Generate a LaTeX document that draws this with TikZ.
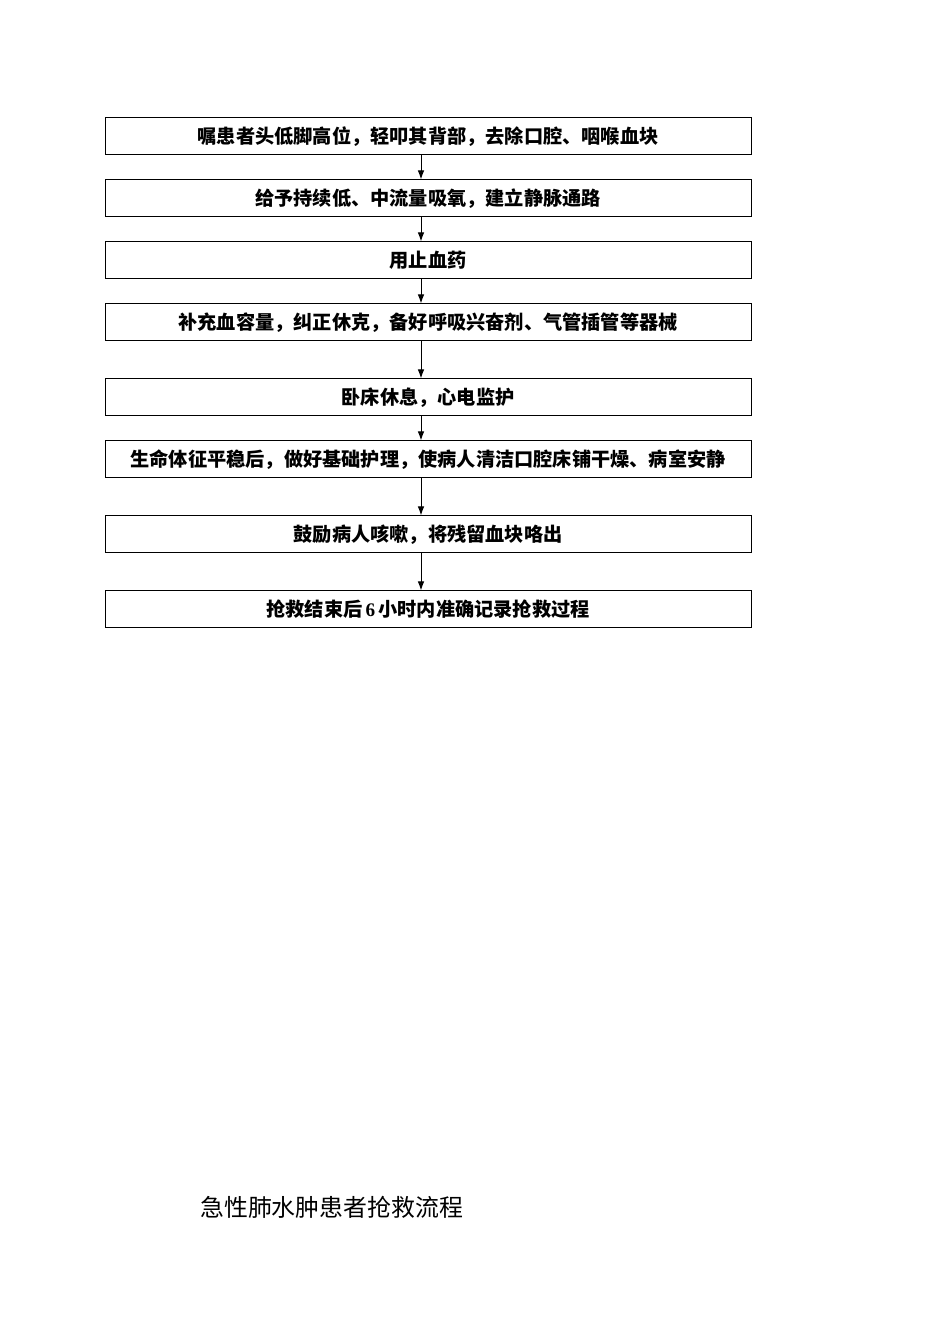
\documentclass[tikz,border=0pt]{standalone}
\usepackage{fontspec}
\setmainfont{Liberation Serif}
\newfontfamily\cjk{Noto Sans CJK SC}
\usetikzlibrary{positioning,arrows.meta}

\begin{document}
\begin{tikzpicture}[x=1pt,y=1pt]
\tikzset{stepbox/.style={draw=black,line width=1pt,minimum width=646pt,minimum height=37pt,inner sep=0pt,font=\cjk\bfseries\fontsize{19.2}{21}\selectfont},
  flowarrow/.style={draw=black,line width=1pt,-{Latex[length=9pt,width=6.5pt]}}}
\definecolor{fillColor}{RGB}{255,255,255}
\path[use as bounding box,fill=fillColor] (0,0) rectangle (950,1344);

\node[stepbox] (s1) at (428,1207.5) {嘱患者头低脚高位，轻叩其背部，去除口腔、咽喉血块};
\node[stepbox] (s2) at (428,1145.5) {给予持续低、中流量吸氧，建立静脉通路};
\node[stepbox] (s3) at (428,1083.5) {用止血药};
\node[stepbox] (s4) at (428,1021.5) {补充血容量，纠正休克，备好呼吸兴奋剂、气管插管等器械};
\node[stepbox] (s5) at (428, 946.5) {卧床休息，心电监护};
\node[stepbox] (s6) at (428, 884.5) {生命体征平稳后，做好基础护理，使病人清洁口腔床铺干燥、病室安静};
\node[stepbox] (s7) at (428, 809.5) {鼓励病人咳嗽，将残留血块咯出};
\node[stepbox] (s8) at (428, 734.5) {抢救结束后\,{\rmfamily\bfseries 6}\,小时内准确记录抢救过程};

\coordinate (ax) at (421,0);
\foreach \a/\b in {s1/s2,s2/s3,s3/s4,s4/s5,s5/s6,s6/s7,s7/s8}
  \draw[flowarrow] (\a.south -| ax) -- (\b.north -| ax);

\node[anchor=west,inner sep=0pt,font=\cjk\fontsize{23.9}{26}\selectfont] (title) at (200,137) {急性肺水肿患者抢救流程};
\end{tikzpicture}
\end{document}
